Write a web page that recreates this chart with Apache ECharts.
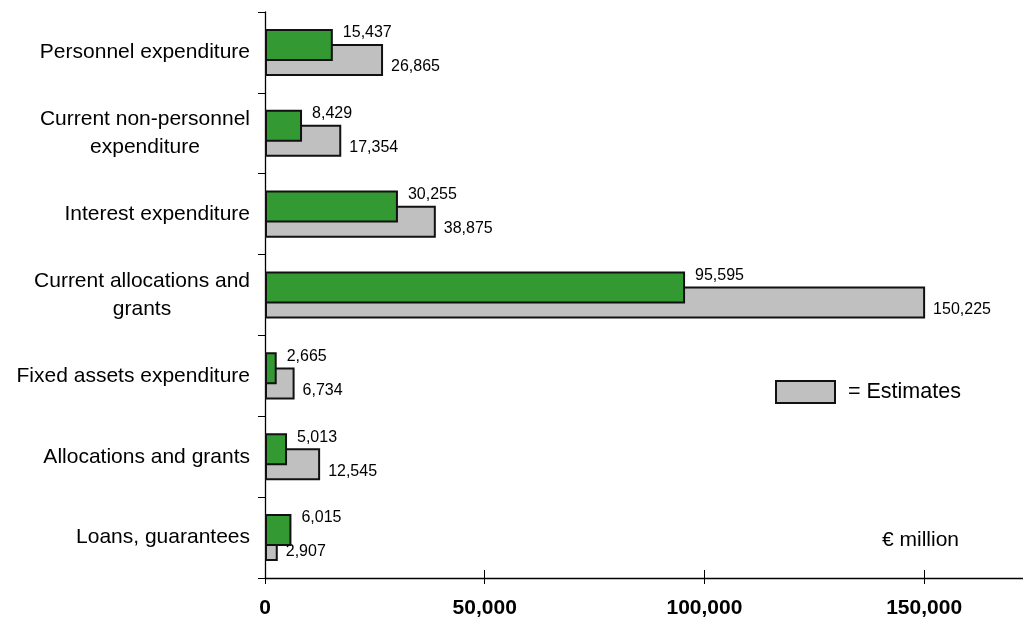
<!DOCTYPE html>
<html>
<head>
<meta charset="utf-8">
<title>Expenditure by type</title>
<script src="https://cdn.jsdelivr.net/npm/echarts@6/dist/echarts.min.js"></script>
<style>
  html, body { margin: 0; padding: 0; background: #ffffff; }
  #chart { width: 1023px; height: 623px; }
</style>
</head>
<body>
<div id="chart"></div>
<script>
// Expenditure categories, top to bottom
const categories = [
  'Personnel expenditure',
  'Current non-personnel\nexpenditure',
  'Interest expenditure',
  'Current allocations and\ngrants',
  'Fixed assets expenditure',
  'Allocations and grants',
  'Loans, guarantees'
];

// Actual outturn (€ million)
const actualValues = [15437, 8429, 30255, 95595, 2665, 5013, 6015];

// Budget estimates (€ million)
const estimateValues = [26865, 17354, 38875, 150225, 6734, 12545, 2907];

// Value-axis ticks
const xTickValues = [0, 50000, 100000, 150000];

const FONT = '"Liberation Sans", Arial, Helvetica, sans-serif';
const fmt = v => Number(v).toLocaleString('en-US');

const chart = echarts.init(document.getElementById('chart'), null, { renderer: 'canvas' });

chart.setOption({
  animation: false,
  backgroundColor: '#ffffff',
  textStyle: { fontFamily: FONT },
  grid: { left: 265, right: 0, top: 12, bottom: 45, containLabel: false },
  legend: {
    data: ['Estimates'],
    left: 775,
    top: 380,
    padding: 0,
    itemWidth: 59,
    itemHeight: 22,
    selectedMode: false,
    icon: 'rect',
    formatter: () => '= Estimates',
    textStyle: { fontFamily: FONT, fontSize: 21.5, color: '#000', padding: [0, 0, 0, 8] }
  },
  graphic: [{
    type: 'text',
    left: 882,
    top: 530,
    style: { text: '€ million', font: '21px ' + FONT, fill: '#000' }
  }],
  xAxis: [{
    type: 'value',
    min: 0,
    max: 172500,
    position: 'bottom',
    splitLine: { show: false },
    axisLine: { show: true, lineStyle: { color: '#000', width: 1.3 } },
    axisTick: { show: true, length: 6, customValues: xTickValues, lineStyle: { color: '#000' } },
    axisLabel: {
      customValues: xTickValues,
      formatter: fmt,
      margin: 20,
      fontSize: 21,
      fontWeight: 'bold',
      color: '#000',
      fontFamily: FONT
    }
  }, {
    // mirrored ticks so each mark crosses the axis line
    type: 'value',
    min: 0,
    max: 172500,
    position: 'bottom',
    splitLine: { show: false },
    axisLine: { show: false },
    axisTick: { show: true, inside: true, length: 8, customValues: xTickValues, lineStyle: { color: '#000' } },
    axisLabel: { show: false }
  }],
  yAxis: {
    type: 'category',
    data: categories,
    inverse: true,
    axisLine: { show: true, lineStyle: { color: '#000', width: 1.3 } },
    axisTick: { show: true, length: 7, lineStyle: { color: '#000' } },
    axisLabel: {
      margin: 15,
      align: 'right',
      formatter: v => v.split('\n').map(s => '{c|' + s + '}').join('\n'),
      rich: {
        c: { fontSize: 21, lineHeight: 28, align: 'center', color: '#000', fontFamily: FONT }
      }
    }
  },
  series: [{
    name: 'Actual',
    type: 'bar',
    data: actualValues,
    barWidth: 32,
    barGap: '-53%',
    z: 3,
    itemStyle: { color: '#339933', borderColor: '#111', borderWidth: 2 },
    label: {
      show: true,
      position: 'right',
      distance: 10,
      offset: [0, -12],
      formatter: p => fmt(p.value),
      fontSize: 16,
      color: '#000',
      fontFamily: FONT
    }
  }, {
    name: 'Estimates',
    type: 'bar',
    data: estimateValues,
    barWidth: 32,
    barGap: '-53%',
    z: 2,
    itemStyle: { color: '#c0c0c0', borderColor: '#111', borderWidth: 2 },
    label: {
      show: true,
      position: 'right',
      distance: 8,
      offset: [0, 7],
      formatter: p => fmt(p.value),
      fontSize: 16,
      color: '#000',
      fontFamily: FONT
    }
  }]
});
</script>
</body>
</html>
